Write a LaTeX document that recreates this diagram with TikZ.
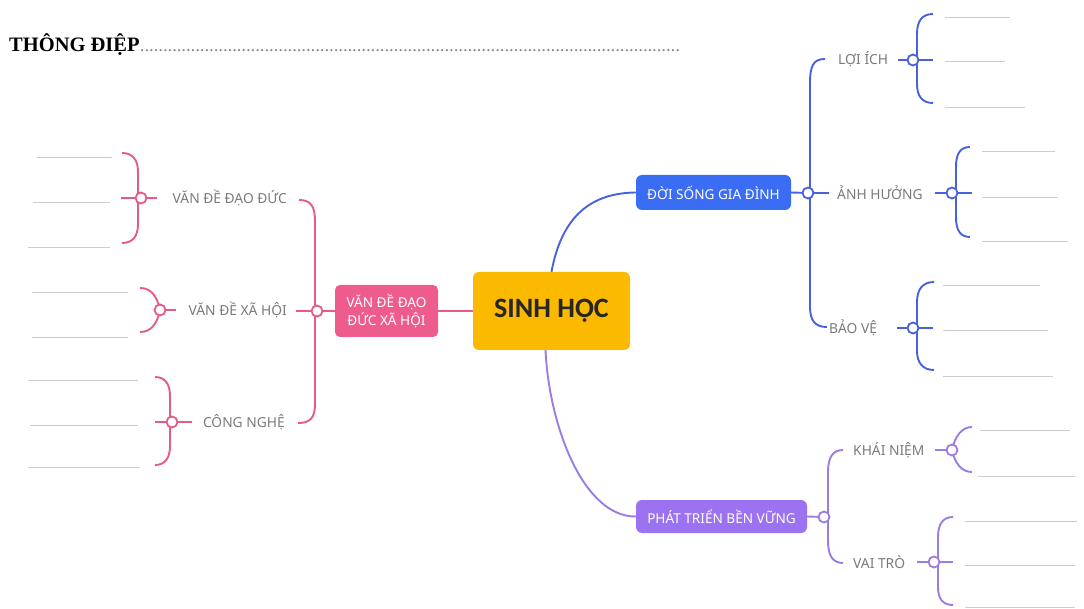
\documentclass[tikz,border=0pt]{standalone}
\usepackage{fontspec}
\setmainfont{Liberation Serif}
\newfontfamily\lblfont{Noto Sans}
\newfontfamily\hfont{Carlito}
\definecolor{pinkN}{HTML}{EE5C8E}
\definecolor{pinkL}{HTML}{E65A8B}
\definecolor{blueN}{HTML}{3A6CF4}
\definecolor{blueL}{HTML}{4762DC}
\definecolor{purpN}{HTML}{9B72F0}
\definecolor{purpL}{HTML}{9B7BE4}
\definecolor{yel}{HTML}{FBB900}
\definecolor{leafC}{HTML}{CDCDCD}
\definecolor{lblC}{HTML}{7A7A7A}
\begin{document}
\begin{tikzpicture}[x=1pt,y=-1pt,
  box/.style={rounded corners=6pt, inner sep=0pt, text=white, align=center,
    font=\lblfont\fontsize{13.6}{17.5}\selectfont},
  lbl/.style={inner sep=0pt, text=lblC, font=\lblfont\fontsize{13.8}{15}\selectfont},
  dot/.style={circle, draw, fill=white, line width=1.8pt, minimum size=11pt, inner sep=0pt},
  pk/.style={draw=pinkL, line width=1.9pt},
  bl/.style={draw=blueL, line width=1.9pt},
  pp/.style={draw=purpL, line width=1.9pt},
  leaf/.style={draw=leafC, line width=0.9pt}]
\useasboundingbox (0,0) rectangle (1084,609);

% title
\node[anchor=base west, inner sep=0pt, font=\bfseries\fontsize{20.5}{20}\selectfont] (title) at (9,52) {THÔNG ĐIỆP};
\node[anchor=base west, inner sep=0pt, text=black!50, font=\bfseries\fontsize{13}{13}\selectfont] (dots) at (title.base east) {\hbox to 540pt{\xleaders\hbox to 4.6pt{\hss.\hss}\hfill}};

% main nodes
\node[box, fill=yel, text=black!85, minimum width=157pt, minimum height=78pt, font=\hfont\bfseries\fontsize{28}{28}\selectfont] (sh) at (551.5,311) {SINH HỌC};
\node[box, fill=pinkN, minimum width=103pt, minimum height=52pt, rounded corners=5pt] (eth) at (386.5,311) {VĂN ĐỀ ĐẠO\\ĐỨC XÃ HỘI};
\node[box, fill=blueN, minimum width=155pt, minimum height=35pt] (life) at (713.5,192.5) {ĐỜI SỐNG GIA ĐÌNH};
\node[box, fill=purpN, minimum width=171pt, minimum height=33pt] (sust) at (721.5,516.5) {PHÁT TRIỂN BỀN VỮNG};

% labels
\node[lbl, anchor=east] (dd) at (287,198) {VĂN ĐỀ ĐẠO ĐỨC};
\node[lbl, anchor=east] (xh) at (287,310) {VĂN ĐỀ XÃ HỘI};
\node[lbl, anchor=east] (cn) at (285,422) {CÔNG NGHỆ};
\node[lbl, anchor=west] (li) at (838,59) {LỢI ÍCH};
\node[lbl, anchor=west] (ah) at (837,193) {ẢNH HƯỞNG};
\node[lbl, anchor=west] (bv) at (829,328) {BẢO VỆ};
\node[lbl, anchor=west] (kn) at (853,450) {KHÁI NIỆM};
\node[lbl, anchor=west] (vt) at (853,562) {VAI TRÒ};

% coordinates for circles
\coordinate (pc0) at (317,311);
\coordinate (pc1) at (141,198);
\coordinate (pc2) at (160,310);
\coordinate (pc3) at (172,422);
\coordinate (bc0) at (808,193);
\coordinate (bc1) at (913,60);
\coordinate (bc2) at (952,193);
\coordinate (bc3) at (913,328);
\coordinate (vc0) at (824,517);
\coordinate (vc1) at (952,450);
\coordinate (vc2) at (934,562);

% central connectors
\draw[pk] (eth.east) -- (sh.west);
\draw[bl] (sh.north) .. controls (562,215) and (592,193) .. (life.west);
\draw[pp] ([xshift=-6pt]sh.south) .. controls (549,425) and (583,517) .. (sust.west);

% pink main brace
\draw[pk] (299,200) .. controls (311,200) and (315,206) .. (315,222) -- (315,404) .. controls (315,418) and (310,423) .. (298,423);
\draw[pk] (eth.west) -- (pc0) -- (296,311);
% pink subs
\draw[pk] (122,153) .. controls (133,153) and (138,160) .. (138,172) -- (138,224) .. controls (138,236) and (133,243) .. (122,243);
\draw[pk] (121,198) -- (pc1) -- (157,198);
\draw[pk] (140,288) .. controls (151,288) and (157,296) .. (pc2) .. controls (157,324) and (151,332) .. (140,332);
\draw[pk] (pc2) -- (176,310);
\draw[pk] (155,377) .. controls (165,377) and (170,384) .. (170,396) -- (170,446) .. controls (170,458) and (165,465) .. (155,465);
\draw[pk] (155,422) -- (pc3) -- (192,422);

% blue main brace
\draw[bl] (825,59) .. controls (813,59) and (810,66) .. (810,84) -- (810,306) .. controls (810,321) and (815,327) .. (827,327);
\draw[bl] (life.east) -- (bc0) -- (829,193);
% blue subs
\draw[bl] (933,14) .. controls (922,14) and (917,21) .. (917,34) -- (917,84) .. controls (917,96) and (922,103) .. (933,103);
\draw[bl] (898,60) -- (bc1) -- (933,60);
\draw[bl] (970,147) .. controls (960,147) and (956,154) .. (956,167) -- (956,217) .. controls (956,230) and (960,237) .. (970,237);
\draw[bl] (935,193) -- (bc2) -- (972,193);
\draw[bl] (934,282) .. controls (923,282) and (917,289) .. (917,302) -- (917,351) .. controls (917,363) and (923,370) .. (934,370);
\draw[bl] (897,328) -- (bc3) -- (933,328);

% purple main brace
\draw[pp] (843,450) .. controls (833,450) and (828,457) .. (828,472) -- (828,541) .. controls (828,556) and (833,563) .. (843,563);
\draw[pp] (sust.east) -- (vc0);
% purple subs
\draw[pp] (972,427) .. controls (962,427) and (955,436) .. (vc1) .. controls (955,464) and (962,472) .. (972,472);
\draw[pp] (935,450) -- (vc1);
\draw[pp] (953,517) .. controls (943,517) and (938,524) .. (938,537) -- (938,587) .. controls (938,599) and (943,605) .. (953,605);
\draw[pp] (917,562) -- (vc2) -- (953,562);

% circles
\foreach \c in {pc0,pc1,pc2,pc3} \node[dot, draw=pinkL] (d\c) at (\c) {};
\foreach \c in {bc0,bc1,bc2,bc3} \node[dot, draw=blueL] (d\c) at (\c) {};
\foreach \c in {vc0,vc1,vc2} \node[dot, draw=purpL] (d\c) at (\c) {};

% leaf lines
\draw[leaf] (37,157) -- (112,157);
\draw[leaf] (33,202) -- (110,202);
\draw[leaf] (28,247) -- (110,247);
\draw[leaf] (32,292) -- (128,292);
\draw[leaf] (32,337) -- (128,337);
\draw[leaf] (28,380) -- (138,380);
\draw[leaf] (30,425) -- (138,425);
\draw[leaf] (28,467) -- (140,467);
\draw[leaf] (945,17) -- (1010,17);
\draw[leaf] (945,61) -- (1005,61);
\draw[leaf] (945,107) -- (1025,107);
\draw[leaf] (982,151) -- (1055,151);
\draw[leaf] (982,197) -- (1058,197);
\draw[leaf] (982,241) -- (1068,241);
\draw[leaf] (943,285) -- (1040,285);
\draw[leaf] (943,330) -- (1048,330);
\draw[leaf] (943,376) -- (1053,376);
\draw[leaf] (980,430) -- (1070,430);
\draw[leaf] (978,476) -- (1075,476);
\draw[leaf] (965,521) -- (1077,521);
\draw[leaf] (965,565) -- (1075,565);
\draw[leaf] (965,607) -- (1075,607);
\end{tikzpicture}
\end{document}
